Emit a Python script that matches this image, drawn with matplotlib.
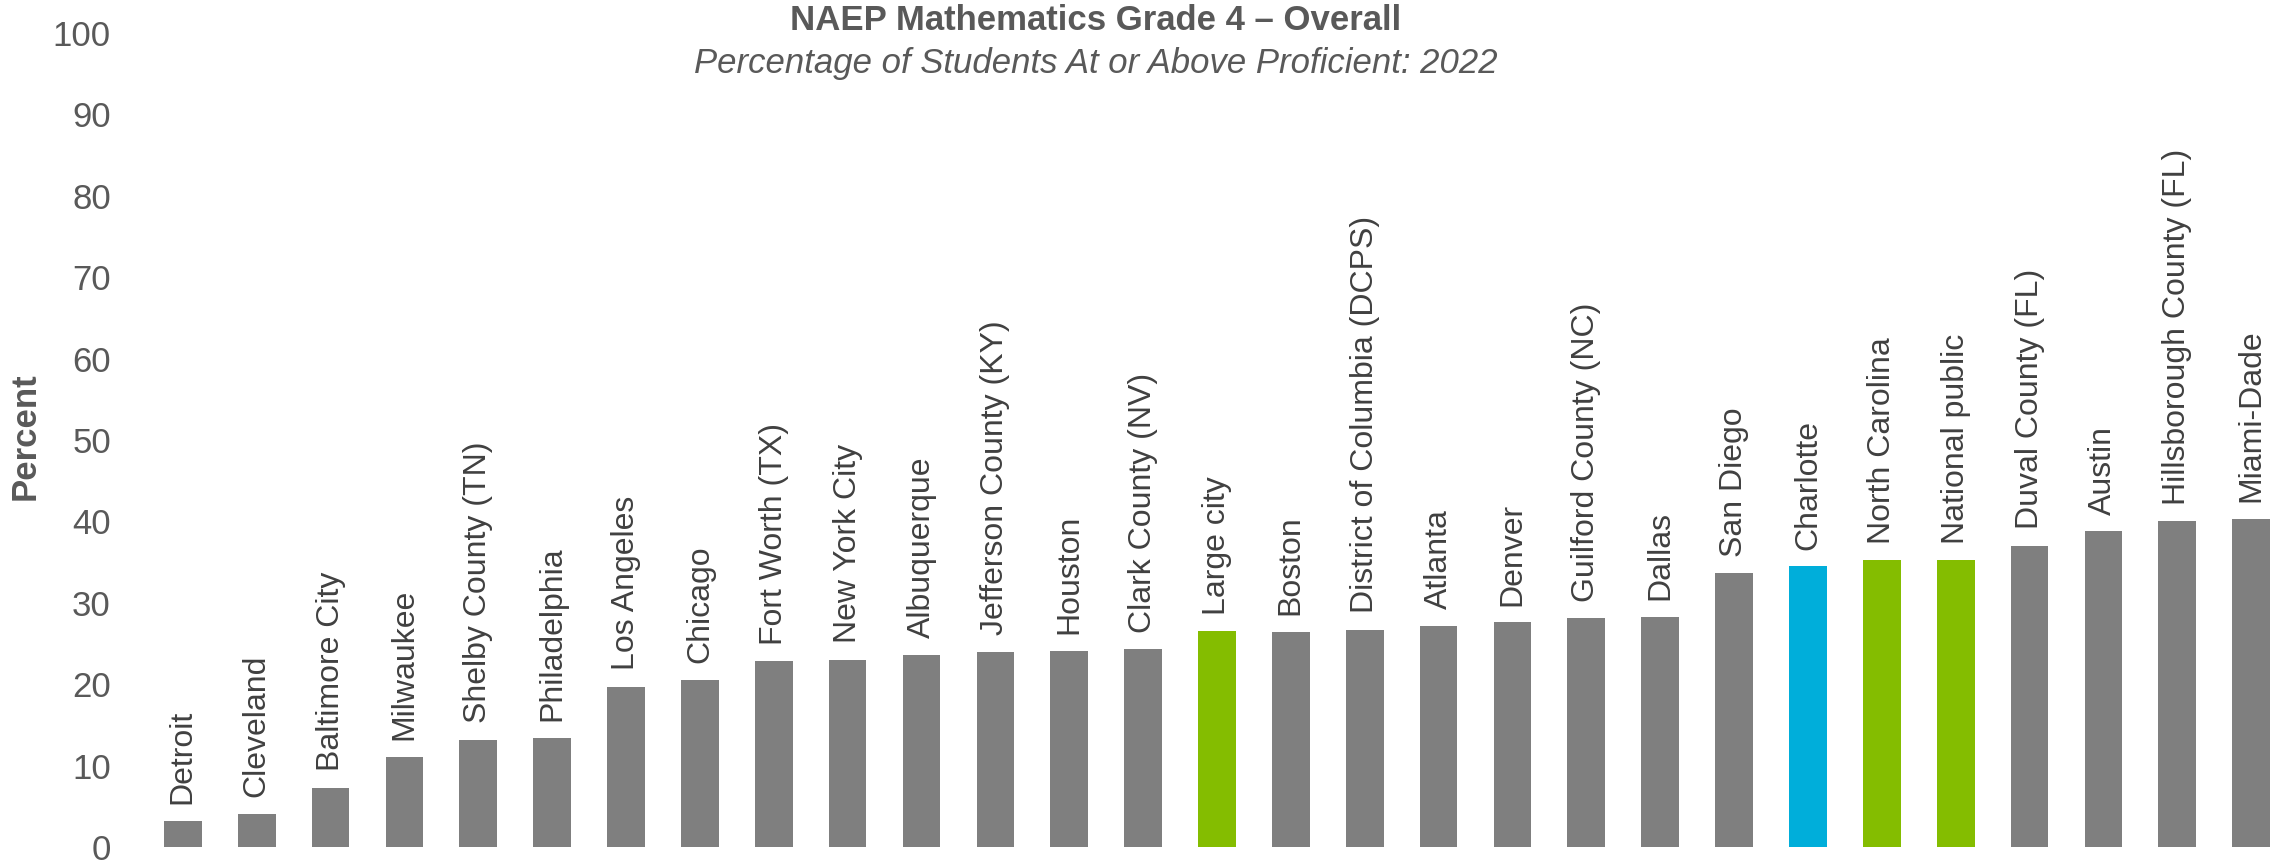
import matplotlib
matplotlib.use("Agg")
import matplotlib.pyplot as plt
from matplotlib import font_manager as fm

categories = ["Detroit", "Cleveland", "Baltimore City", "Milwaukee", "Shelby County (TN)",
              "Philadelphia", "Los Angeles", "Chicago", "Fort Worth (TX)", "New York City",
              "Albuquerque", "Jefferson County (KY)", "Houston", "Clark County (NV)", "Large city",
              "Boston", "District of Columbia (DCPS)", "Atlanta", "Denver", "Guilford County (NC)",
              "Dallas", "San Diego", "Charlotte", "North Carolina", "National public",
              "Duval County (FL)", "Austin", "Hillsborough County (FL)", "Miami-Dade"]
values = [3.2, 4.1, 7.3, 11.1, 13.2, 13.4, 19.7, 20.5, 22.8, 23.0, 23.6, 24.0, 24.1, 24.3, 26.5,
          26.4, 26.7, 27.2, 27.6, 28.1, 28.3, 33.6, 34.5, 35.2, 35.2, 37.0, 38.8, 40.0, 40.3]
groups = ["d"] * 14 + ["b"] + ["d"] * 7 + ["c"] + ["b", "b"] + ["d"] * 4
yticks = list(range(0, 101, 10))

colors = {"d": "#7F7F7F", "b": "#84BD00", "c": "#00AEDA"}

names = {f.name for f in fm.fontManager.ttflist}
narrow = ["Liberation Sans Narrow", "Liberation Sans"] if "Liberation Sans Narrow" in names else ["Liberation Sans"]

W, H = 2277, 866
fig = plt.figure(figsize=(W / 100, H / 100), dpi=100)
ax = fig.add_axes([140 / W, 1 - 847 / H, (W - 140) / W, (847 - 33) / H])

x = list(range(len(categories)))
ax.bar(x, values, width=0.51, color=[colors[g] for g in groups])
ax.set_ylim(0, 100)
ax.set_xlim(-0.58, 28.35)
ax.set_yticks(yticks)
ax.set_yticklabels([str(t) for t in yticks], family=narrow, fontsize=25, color="#595959")
ax.tick_params(axis="y", length=0, pad=21)
ax.set_xticks([])
for s in ax.spines.values():
    s.set_visible(False)

for xi, v, c in zip(x, values, categories):
    ax.annotate(c, (xi, v), xytext=(0, 12), textcoords="offset points", rotation=90,
                ha="center", va="bottom", fontsize=23, color="#404040",
                family="Liberation Sans")

fig.text(25 / W, 1 - 436 / H, "Percent", rotation=90, ha="center", va="center",
         fontsize=25, fontweight="bold", color="#595959", family="Liberation Sans")
fig.text(1096 / W, 1 - 21 / H, "NAEP Mathematics Grade 4 \u2013 Overall", ha="center", va="center",
         fontsize=25, fontweight="bold", color="#595959", family=narrow)
fig.text(1096 / W, 1 - 64 / H, "Percentage of Students At or Above Proficient: 2022", ha="center",
         va="center", fontsize=25, style="italic", color="#595959", family=narrow)

fig.savefig("out.png", dpi=100)
